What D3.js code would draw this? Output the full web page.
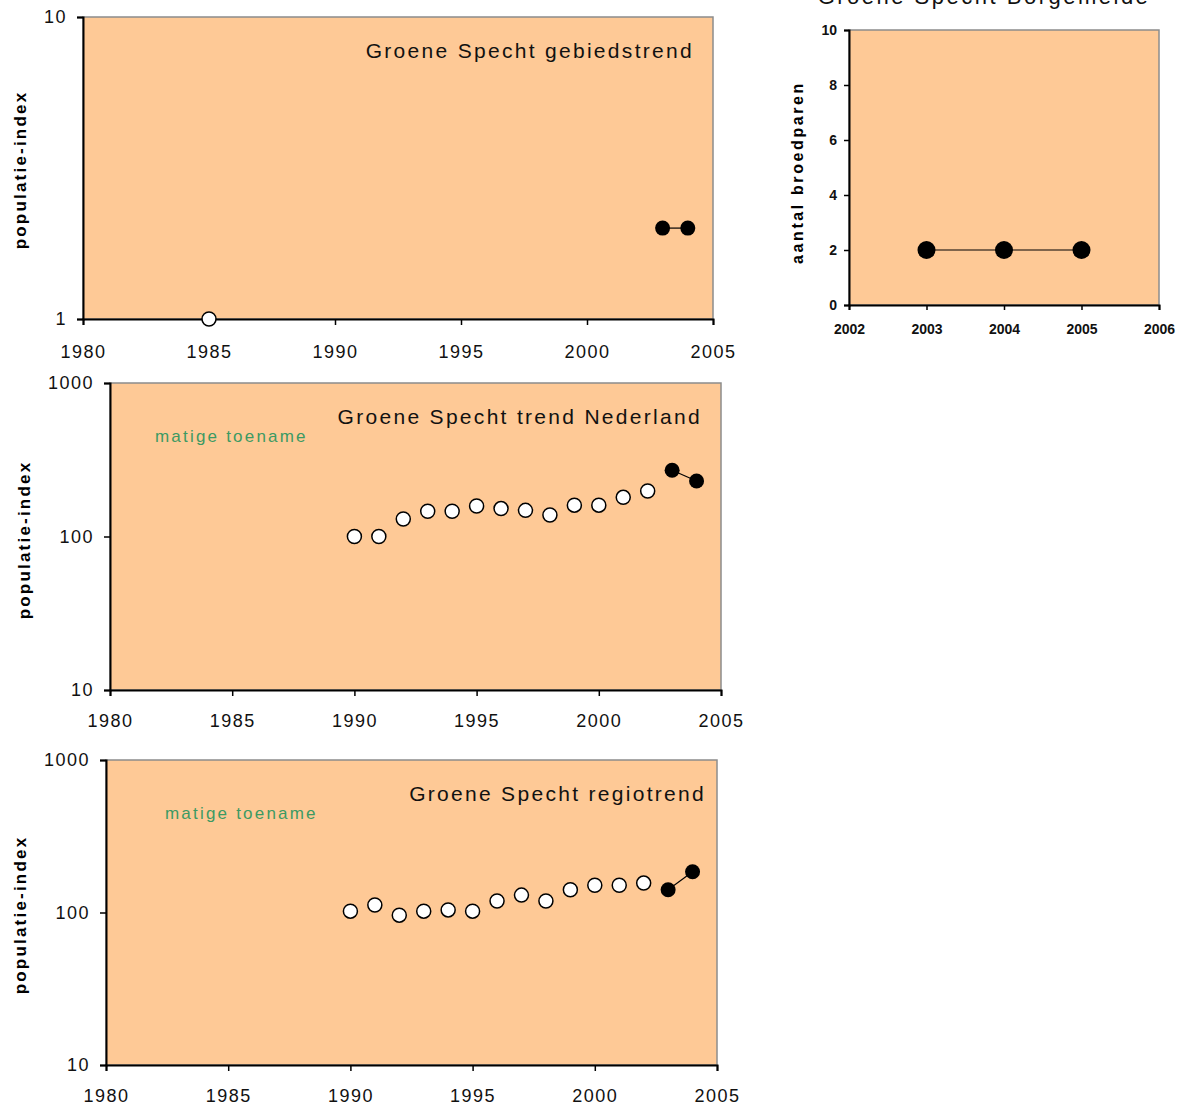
<!DOCTYPE html>
<html lang="en">
<head>
<meta charset="UTF-8">
<title>Groene Specht</title>
<script src="https://d3js.org/d3.v7.min.js"></script>
<style>
  body { margin: 0; background: #fff; }
  svg text { font-family: "Liberation Sans", Arial, sans-serif; }
</style>
</head>
<body>
<div id="chart"></div>
<script>
// gebiedstrend (top left)
const gebiedOpenYears = [1985];
const gebiedOpenValues = [1];
const gebiedFilledYears = [2003, 2004];
const gebiedFilledValues = [2, 2];

// Borgemeide broedparen (top right)
const borgYears = [2003, 2004, 2005];
const borgValues = [2, 2, 2];

// trend Nederland (middle)
const nlOpenYears = [1990, 1991, 1992, 1993, 1994, 1995, 1996, 1997, 1998, 1999, 2000, 2001, 2002];
const nlOpenValues = [100, 100, 130, 146, 146, 158, 152, 148, 138, 160, 160, 180, 198];
const nlFilledYears = [2003, 2004];
const nlFilledValues = [270, 230];

// regiotrend (bottom)
const regioOpenYears = [1990, 1991, 1992, 1993, 1994, 1995, 1996, 1997, 1998, 1999, 2000, 2001, 2002];
const regioOpenValues = [102, 112, 96, 102, 104, 102, 119, 130, 119, 141, 151, 151, 156];
const regioFilledYears = [2003, 2004];
const regioFilledValues = [141, 185];

const xTicksLong = [1980, 1985, 1990, 1995, 2000, 2005];
const xTicksShort = [2002, 2003, 2004, 2005, 2006];
const yTicksBorg = [0, 2, 4, 6, 8, 10];

const svg = d3.select('#chart').append('svg')
    .attr('width', 1183)
    .attr('height', 1108);

const fillColor = '#fec996';

function drawTrend(cfg) {
    const x = d3.scaleLinear().domain([1980, 2005]).range([cfg.left, cfg.right]);
    const y = d3.scaleLog().domain(cfg.yDomain).range([cfg.bottom, cfg.top]);
    const g = svg.append('g');

    g.append('rect')
        .attr('x', cfg.left).attr('y', cfg.top)
        .attr('width', cfg.right - cfg.left).attr('height', cfg.bottom - cfg.top)
        .attr('fill', fillColor)
        .attr('stroke', '#8c8c8c')
        .attr('stroke-width', 1.5);

    const xAxis = g.append('g')
        .attr('transform', `translate(0,${cfg.bottom})`)
        .call(d3.axisBottom(x).tickValues(xTicksLong).tickFormat(d3.format('d')).tickSize(6).tickPadding(cfg.xPad));
    const yAxis = g.append('g')
        .attr('transform', `translate(${cfg.left},0)`)
        .call(d3.axisLeft(y).tickValues(cfg.yTicks).tickFormat(d3.format('d')).tickSize(6).tickPadding(10));
    [xAxis, yAxis].forEach(a => {
        a.select('.domain').attr('stroke', '#000').attr('stroke-width', 2);
        a.selectAll('.tick line').attr('stroke', '#000').attr('stroke-width', 1.5);
        a.selectAll('text').attr('font-size', 18).attr('letter-spacing', 1.5).attr('fill', '#111');
    });

    g.append('text')
        .attr('x', cfg.right - cfg.titleOff).attr('y', cfg.top + 41)
        .attr('text-anchor', 'end')
        .attr('font-size', 21)
        .attr('letter-spacing', 2.3)
        .attr('fill', '#111')
        .text(cfg.title);

    if (cfg.note) {
        g.append('text')
            .attr('x', cfg.noteX).attr('y', cfg.top + 59)
            .attr('font-size', 17)
            .attr('letter-spacing', 2.2)
            .attr('fill', '#3c9a63')
            .text(cfg.note);
    }

    g.append('text')
        .attr('transform', `translate(${cfg.labelX},${cfg.labelY}) rotate(-90)`)
        .attr('text-anchor', 'middle')
        .attr('font-size', 17)
        .attr('letter-spacing', 2.2)
        .attr('font-weight', 'bold')
        .attr('fill', '#000')
        .text('populatie-index');

    const filled = cfg.filledYears.map((yr, i) => ({ yr, v: cfg.filledValues[i] }));
    const open = cfg.openYears.map((yr, i) => ({ yr, v: cfg.openValues[i] }));

    g.append('path')
        .datum(filled)
        .attr('fill', 'none')
        .attr('stroke', '#000')
        .attr('stroke-width', 1.2)
        .attr('d', d3.line().x(d => x(d.yr)).y(d => y(d.v)));

    g.selectAll('.open').data(open).enter().append('circle')
        .attr('cx', d => x(d.yr)).attr('cy', d => y(d.v))
        .attr('r', 7)
        .attr('fill', '#fff')
        .attr('stroke', '#000')
        .attr('stroke-width', 1.5);

    g.selectAll('.filled').data(filled).enter().append('circle')
        .attr('cx', d => x(d.yr)).attr('cy', d => y(d.v))
        .attr('r', 7.5)
        .attr('fill', '#000');
}

drawTrend({
    left: 83, right: 713, top: 17, bottom: 319,
    yDomain: [1, 10], yTicks: [1, 10], xPad: 20,
    title: 'Groene Specht gebiedstrend', titleOff: 19,
    labelX: 26, labelY: 170,
    openYears: gebiedOpenYears, openValues: gebiedOpenValues,
    filledYears: gebiedFilledYears, filledValues: gebiedFilledValues
});

drawTrend({
    left: 110, right: 721, top: 383, bottom: 690,
    yDomain: [10, 1000], yTicks: [10, 100, 1000], xPad: 18,
    title: 'Groene Specht trend Nederland', titleOff: 19,
    labelX: 30, labelY: 540,
    note: 'matige toename', noteX: 155,
    openYears: nlOpenYears, openValues: nlOpenValues,
    filledYears: nlFilledYears, filledValues: nlFilledValues
});

drawTrend({
    left: 106, right: 717, top: 760, bottom: 1065,
    yDomain: [10, 1000], yTicks: [10, 100, 1000], xPad: 18,
    title: 'Groene Specht regiotrend', titleOff: 11,
    labelX: 26, labelY: 915,
    note: 'matige toename', noteX: 165,
    openYears: regioOpenYears, openValues: regioOpenValues,
    filledYears: regioFilledYears, filledValues: regioFilledValues
});

// Borgemeide chart
(function () {
    const left = 849, right = 1159, top = 30, bottom = 305;
    const x = d3.scaleLinear().domain([2002, 2006]).range([left, right]);
    const y = d3.scaleLinear().domain([0, 10]).range([bottom, top]);
    const g = svg.append('g');

    g.append('rect')
        .attr('x', left).attr('y', top)
        .attr('width', right - left).attr('height', bottom - top)
        .attr('fill', fillColor)
        .attr('stroke', '#8c8c8c')
        .attr('stroke-width', 1.5);

    const xAxis = g.append('g')
        .attr('transform', `translate(0,${bottom})`)
        .call(d3.axisBottom(x).tickValues(xTicksShort).tickFormat(d3.format('d')).tickSize(5).tickPadding(14));
    const yAxis = g.append('g')
        .attr('transform', `translate(${left},0)`)
        .call(d3.axisLeft(y).tickValues(yTicksBorg).tickSize(5).tickPadding(7));
    [xAxis, yAxis].forEach(a => {
        a.select('.domain').attr('stroke', '#000').attr('stroke-width', 2);
        a.selectAll('.tick line').attr('stroke', '#000').attr('stroke-width', 1.5);
        a.selectAll('text').attr('font-size', 14).attr('font-weight', 'bold').attr('fill', '#111');
    });

    g.append('text')
        .attr('x', 984).attr('y', 4)
        .attr('text-anchor', 'middle')
        .attr('font-size', 22)
        .attr('letter-spacing', 2.5)
        .attr('fill', '#111')
        .text('Groene Specht Borgemeide');

    g.append('text')
        .attr('transform', `translate(803,${(top + bottom) / 2 + 5}) rotate(-90)`)
        .attr('text-anchor', 'middle')
        .attr('font-size', 16)
        .attr('letter-spacing', 2.6)
        .attr('font-weight', 'bold')
        .text('aantal broedparen');

    const pts = borgYears.map((yr, i) => ({ yr, v: borgValues[i] }));
    g.append('path')
        .datum(pts)
        .attr('fill', 'none')
        .attr('stroke', '#000')
        .attr('stroke-width', 1.2)
        .attr('d', d3.line().x(d => x(d.yr)).y(d => y(d.v)));
    g.selectAll('.pt').data(pts).enter().append('circle')
        .attr('cx', d => x(d.yr)).attr('cy', d => y(d.v))
        .attr('r', 9)
        .attr('fill', '#000');
})();
</script>
</body>
</html>
